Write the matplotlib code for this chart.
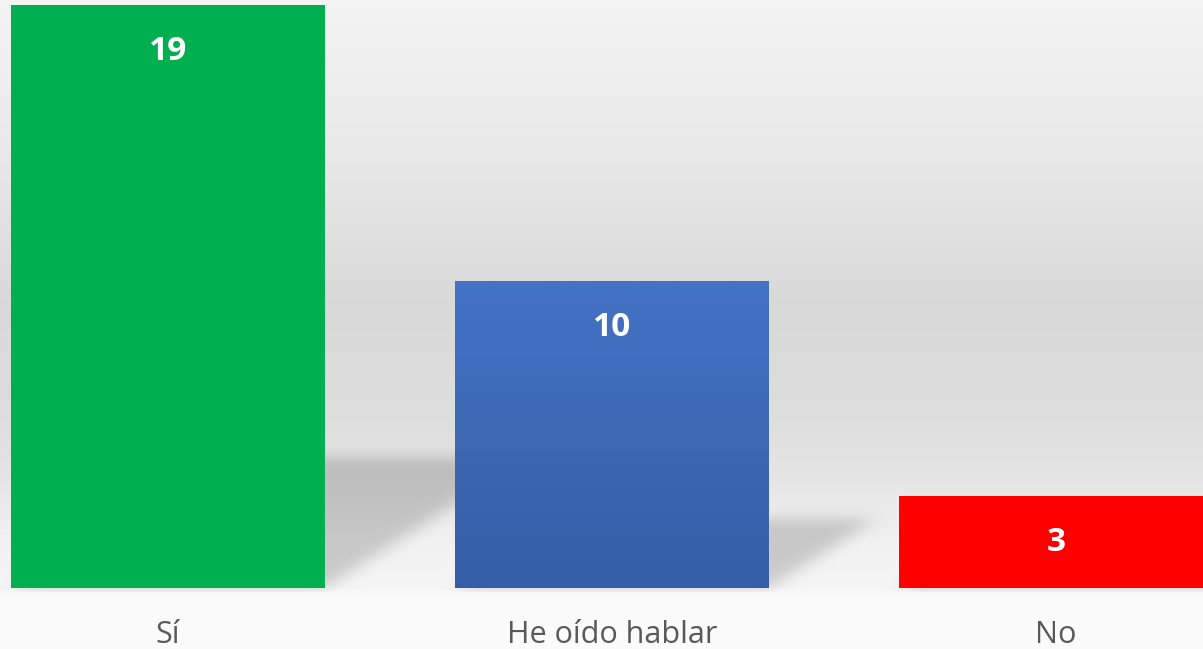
import numpy as np
import matplotlib
matplotlib.use("Agg")
import matplotlib.pyplot as plt
from matplotlib.path import Path

categories = ["Sí", "He oído hablar", "No"]
values = [19, 10, 3]
colors = ["#00b050", "#4472c4", "#ff0000"]

W, H = 1203, 649
fig = plt.figure(figsize=(W / 100, H / 100), dpi=100)

bg_ax = fig.add_axes([0, 0, 1, 1], zorder=0)
bg_ax.set_axis_off()

ax = fig.add_axes([0, 61 / H, 1, 588 / H], zorder=1)
ax.patch.set_alpha(0)
x = np.arange(len(categories))
ax.set_xlim(-0.378, 2.331)
ax.set_ylim(0, 19.16)
bars = ax.bar(x, values, width=0.707, color=colors, zorder=3)

# gradient on blue bar
b = bars[1]
grad = np.linspace(0, 1, 256).reshape(-1, 1)
top = np.array([0x44, 0x72, 0xc4]) / 255
bot = np.array([0x34, 0x5e, 0xa7]) / 255
gimg = bot[None, None, :] * (1 - grad[..., None]) + top[None, None, :] * grad[..., None]
im = ax.imshow(gimg, extent=[b.get_x(), b.get_x() + b.get_width(), 0, b.get_height()],
               origin="lower", aspect="auto", zorder=4)
im.set_clip_path(b)

for xi, v in zip(x, values):
    ax.annotate(str(v), (xi, v), xytext=(0, -33.5), textcoords="offset points",
                ha="center", va="center", color="white", fontsize=24,
                fontweight="bold", family=["Open Sans", "DejaVu Sans"], zorder=5)

ax.set_xticks(x, categories)
ax.tick_params(axis="x", length=0, pad=23, labelsize=22, labelcolor="#595959")
for t in ax.get_xticklabels():
    t.set_family(["Open Sans", "DejaVu Sans"])
ax.set_yticks([])
for s in ax.spines.values():
    s.set_visible(False)

# background gradient (rows indexed from top)
yt = np.arange(H)
gp_y = [0, 150, 300, 420, 480, 540, 588, 591, 649]
gp_v = [0.955, 0.915, 0.850, 0.870, 0.900, 0.945, 0.962, 0.980, 0.988]
col = np.interp(yt, gp_y, gp_v)
bgimg = np.repeat(col[:, None], W, axis=1)

# shadows
fig.canvas.draw()
yy, xx = np.mgrid[0:H, 0:W]
pts = np.column_stack([xx.ravel() + 0.5, (H - yy.ravel() - 0.5)])
mask = np.zeros(H * W)
for bar in bars:
    x0, x1 = bar.get_x(), bar.get_x() + bar.get_width()
    h = bar.get_height()
    (px0, py0), (px1, py1) = ax.transData.transform([(x0, 0), (x1, h)])
    sh = 0.225 * (py1 - py0)
    off = 1.55 * sh
    poly = Path([(px0, py0), (px1, py0), (px1 + off, py0 + sh), (px0 + off, py0 + sh)])
    mask = np.maximum(mask, poly.contains_points(pts).astype(float))
mask = mask.reshape(H, W)


def box_blur(a, r, axis):
    pad = [(0, 0), (0, 0)]
    pad[axis] = (r + 1, r)
    c = np.cumsum(np.pad(a, pad, mode="edge"), axis=axis)
    n = a.shape[axis]
    if axis == 0:
        return (c[2 * r + 1:2 * r + 1 + n] - c[:n]) / (2 * r + 1)
    return (c[:, 2 * r + 1:2 * r + 1 + n] - c[:, :n]) / (2 * r + 1)


for _ in range(3):
    mask = box_blur(mask, 6, 0)
    mask = box_blur(mask, 8, 1)
mask[592:, :] *= 0.0
img = bgimg * (1 - 0.17 * mask)
bg_ax.imshow(np.dstack([img] * 3), extent=[0, 1, 0, 1], origin="upper",
             aspect="auto", interpolation="bilinear")
bg_ax.set_xlim(0, 1)
bg_ax.set_ylim(0, 1)

fig.savefig("out.png", dpi=100)
